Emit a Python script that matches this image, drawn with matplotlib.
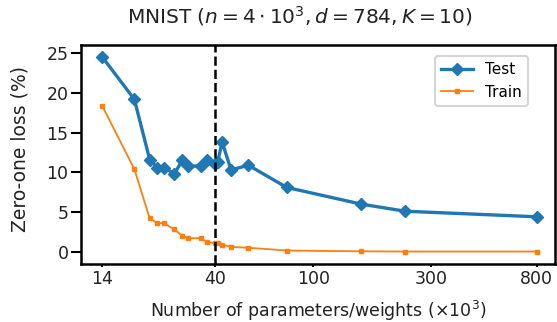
import matplotlib
matplotlib.use("Agg")
import matplotlib.pyplot as plt

params = [14, 18.9, 21.8, 23.4, 24.95, 27.4, 29.5, 31.2, 35.1, 37.3, 40, 41, 42.8, 46.5, 54.6, 78, 156, 235, 800]
test_loss = [24.56, 19.2, 11.6, 10.6, 10.6, 9.8, 11.5, 10.8, 10.8, 11.5, 11.1, 11.3, 13.8, 10.3, 10.9, 8.1, 6.0, 5.1, 4.4]
train_loss = [18.4, 10.4, 4.2, 3.6, 3.6, 2.8, 2.0, 1.7, 1.7, 1.2, 1.1, 1.1, 0.9, 0.6, 0.5, 0.15, 0.05, 0.02, 0.02]
xticks = [14, 40, 100, 300, 800]
yticks = [0, 5, 10, 15, 20, 25]
threshold = 40

W, H = 557, 322
fig = plt.figure(figsize=(W / 100, H / 100), dpi=100)
l, r, t, b = 81, 555, 45, 264
ax = fig.add_axes([l / W, 1 - b / H, (r - l) / W, (b - t) / H])

ax.plot(params, test_loss, color="#1f77b4", marker="D", markersize=6.5, linewidth=2.4, label="Test")
ax.plot(params, train_loss, color="#ff7f0e", marker="s", markersize=2.5, linewidth=1.3, label="Train")
ax.axvline(threshold, color="black", linestyle="--", linewidth=1.8)

ax.set_xscale("log")
ax.set_xlim(11.5, 948)
ax.set_ylim(-1.55, 26.05)
ax.set_xticks(xticks)
ax.set_xticklabels([str(t) for t in xticks])
ax.minorticks_off()
ax.set_yticks(yticks)
ax.tick_params(axis="both", labelsize=12.5, width=1.5, direction="out", colors="black")
ax.tick_params(axis="x", length=2.5, pad=1.5)
ax.tick_params(axis="y", length=7.5, pad=1.5)
ax.tick_params(labelcolor="#222222")
for s in ax.spines.values():
    s.set_linewidth(1.8)

fig.text(0.5 * ((l + r) / W) + 0.0, 1 - 311 / H, r"Number of parameters/weights ($\times 10^3$)",
         fontsize=12.5, ha="center", va="center", color="#222222")
fig.text(20 / W, 1 - 149 / H, "Zero-one loss (%)", fontsize=13.5, rotation=90,
         ha="center", va="center", color="#222222")
fig.text(300 / W, 1 - 16 / H, r"MNIST ($n = 4 \cdot 10^3, d = 784, K = 10$)",
         fontsize=14.5, ha="center", va="center", color="#222222")

leg = ax.legend(loc="upper right", fontsize=11, borderaxespad=0, handlelength=2.1,
                bbox_to_anchor=((528 - l) / (r - l), (b - 56) / (b - t)))
leg.get_frame().set_linewidth(1.5)

fig.savefig("out.png", dpi=100)
